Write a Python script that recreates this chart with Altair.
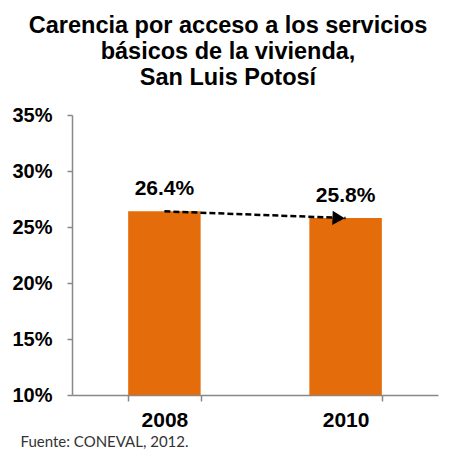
import altair as alt
import pandas as pd

years = ["2008", "2010"]
values = [0.264, 0.258]
labels = ["26.4%", "25.8%"]
y_ticks = [0.10, 0.15, 0.20, 0.25, 0.30, 0.35]
base_value = 0.10

df = pd.DataFrame({"year": years, "value": values, "label": labels})

x_enc = alt.X(
    "year:N",
    scale=alt.Scale(paddingInner=0.6, paddingOuter=0.31),
    axis=alt.Axis(
        title="Fuente: CONEVAL, 2012.",
        titleX=-52, titleY=51, titleAlign="left", titleBaseline="alphabetic",
        titleFont="Lato", titleFontSize=15, titleFontWeight="normal",
        titleColor="#333333",
        labelAngle=0, labelFont="Liberation Sans", labelFontSize=21,
        labelFontWeight="bold", labelColor="#000000", labelPadding=8,
        tickBand="extent", tickSize=6, tickColor="#888888",
        domainColor="#888888", domainWidth=1.5, tickWidth=1.5,
    ),
)
y_scale = alt.Scale(domain=[0.10, 0.35], nice=False, zero=False)
y_enc = alt.Y(
    "value:Q",
    scale=y_scale,
    axis=alt.Axis(
        title=None, values=y_ticks, format=".0%", grid=False,
        labelFont="Liberation Sans", labelFontSize=20, labelFontWeight="bold",
        labelColor="#000000", labelPadding=15,
        tickSize=5, tickColor="#888888", tickWidth=1.5,
        domainColor="#888888", domainWidth=1.5,
    ),
)

bars = alt.Chart(df).mark_bar(color="#E46C0A").encode(
    x=x_enc, y=y_enc, y2=alt.datum(base_value)
)

text = alt.Chart(df).mark_text(
    font="Liberation Sans", fontSize=21, fontWeight="bold", color="#000000",
    baseline="middle", dy=-22,
).encode(x="year:N", y="value:Q", text="label:N")

arrow_line = alt.Chart(df).mark_line(
    color="#000000", strokeDash=[6, 3], strokeWidth=2.5
).encode(x="year:N", y="value:Q")

arrow_head = alt.Chart(df[df.year == "2010"]).mark_point(
    shape="triangle-right", filled=True, color="#000000", size=200,
    opacity=1, angle=2, xOffset=-7,
).encode(x="year:N", y="value:Q")

chart = alt.layer(bars, arrow_line, arrow_head, text).properties(
    width=366, height=280,
    autosize=alt.AutoSizeParams(type="none"),
    padding={"left": 64, "top": 107, "right": 8, "bottom": 55},
    title=alt.TitleParams(
        text=["Carencia por acceso a los servicios", "básicos de la vivienda,", "San Luis Potosí"],
        font="Liberation Sans", fontSize=23.5, fontWeight="bold", color="#000000",
        lineHeight=26, anchor="middle", dx=-27, offset=16,
    ),
).configure_view(stroke=None)

chart.save("out.html", embed_options={"renderer": "svg", "actions": False})
